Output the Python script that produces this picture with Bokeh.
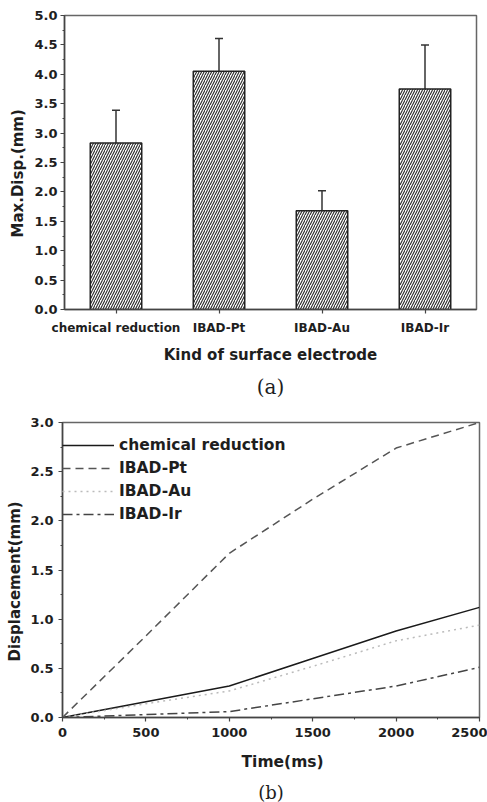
from bokeh.plotting import figure
from bokeh.models import (FactorRange, Range1d, ColumnDataSource, Whisker, TeeHead,
                          Title, Legend, LegendItem, SingleIntervalTicker, NumeralTickFormatter)
from bokeh.embed import file_html
from bokeh.resources import INLINE

# ---- data (a) ----
electrodes = ["chemical reduction", "IBAD-Pt", "IBAD-Au", "IBAD-Ir"]
max_disp = [2.83, 4.05, 1.68, 3.75]
err_upper = [3.39, 4.61, 2.02, 4.50]
err_lower = [2.26, 3.47, 1.34, 3.00]

# ---- data (b) ----
time_ms = [0, 500, 1000, 1500, 2000, 2500]
disp_chem = [0.0, 0.16, 0.32, 0.60, 0.88, 1.12]
disp_pt = [0.0, 0.83, 1.67, 2.22, 2.74, 3.00]
disp_au = [0.0, 0.14, 0.27, 0.52, 0.78, 0.94]
disp_ir = [0.0, 0.03, 0.06, 0.19, 0.32, 0.51]

FONT = "DejaVu Sans"
AX = "#444444"
TXT = "#1e1e1e"

def style_axes(p):
    for ax in (p.xaxis + p.yaxis):
        ax.axis_line_color = AX
        ax.axis_line_width = 1.5
        ax.major_tick_line_color = AX
        ax.minor_tick_line_color = AX
        ax.major_tick_line_width = 1.2
        ax.major_tick_out = 4
        ax.major_tick_in = 0
        ax.minor_tick_out = 2
        ax.minor_tick_in = 0
        ax.major_label_text_font = FONT
        ax.major_label_text_font_style = "bold"
        ax.major_label_text_color = TXT
        ax.axis_label_text_font = FONT
        ax.axis_label_text_font_style = "bold"
        ax.axis_label_text_font_size = "15px"
        ax.axis_label_text_color = TXT
    p.xgrid.visible = False
    p.ygrid.visible = False
    p.outline_line_color = "#666666"
    p.outline_line_width = 1.5
    p.background_fill_color = "white"
    p.border_fill_color = "white"

def title(text, size, standoff, align="center", offset=0, font=FONT, style="bold"):
    return Title(text=text, align=align, offset=offset, standoff=standoff, text_font=font,
                 text_font_style=style, text_font_size=size, text_color=TXT)

# ---------------- (a) bar chart ----------------
src = ColumnDataSource(dict(cat=electrodes, val=max_disp, up=err_upper, lo=err_lower))
p1 = figure(x_range=FactorRange(factors=electrodes, range_padding=0), y_range=Range1d(0, 5),
            width=487, height=404, output_backend="svg", toolbar_location=None,
            min_border_left=64, min_border_right=11, min_border_top=15, min_border_bottom=95)
p1.vbar(x="cat", top="val", width=0.5, source=src, fill_color="white",
        line_color="#222222", line_width=1.5, hatch_pattern="/", hatch_color="#2a2a2a",
        hatch_scale=5, hatch_weight=1.1)
wh = Whisker(base="cat", upper="up", lower="lo", source=src, line_color="#333333", line_width=1.5,
             upper_head=TeeHead(size=8, line_color="#333333", line_width=1.5), lower_head=None)
p1.add_layout(wh)
p1.yaxis.ticker = SingleIntervalTicker(interval=0.5, num_minor_ticks=2)
p1.yaxis.formatter = NumeralTickFormatter(format="0.0")
p1.xaxis.axis_label = "Kind of surface electrode"
style_axes(p1)
p1.yaxis.major_label_text_font_size = "13px"
p1.yaxis.major_label_standoff = 3
p1.xaxis.major_label_text_font_size = "12px"
p1.xaxis.major_label_standoff = 7
p1.xaxis.axis_label_standoff = 8
p1.add_layout(title("Max.Disp.(mm)", "15px", 10, align="left", offset=72), "left")
p1.add_layout(title("(a)", "20px", 12, font="DejaVu Serif", style="normal"), "below")

# ---------------- (b) line chart ----------------
p2 = figure(x_range=Range1d(0, 2500), y_range=Range1d(0, 3.0),
            width=487, height=398, output_backend="svg", toolbar_location=None,
            min_border_left=58, min_border_right=8, min_border_top=18, min_border_bottom=85)
r1 = p2.line(time_ms, disp_chem, line_color="#1a1a1a", line_width=1.5)
r2 = p2.line(time_ms, disp_pt, line_color="#555555", line_width=1.5, line_dash="8 5")
r3 = p2.line(time_ms, disp_au, line_color="#bbbbbb", line_width=1.5, line_dash="2 4")
r4 = p2.line(time_ms, disp_ir, line_color="#444444", line_width=1.5, line_dash="10 4 3 4")
p2.xaxis.ticker = SingleIntervalTicker(interval=500, num_minor_ticks=2)
p2.yaxis.ticker = SingleIntervalTicker(interval=0.5, num_minor_ticks=2)
p2.yaxis.formatter = NumeralTickFormatter(format="0.0")
style_axes(p2)
p2.xaxis.major_label_text_font_size = "13px"
p2.yaxis.major_label_text_font_size = "13px"
p2.xaxis.major_label_standoff = 6
p2.yaxis.major_label_standoff = 5
legend = Legend(items=[LegendItem(label="chemical reduction", renderers=[r1]),
                       LegendItem(label="IBAD-Pt", renderers=[r2]),
                       LegendItem(label="IBAD-Au", renderers=[r3]),
                       LegendItem(label="IBAD-Ir", renderers=[r4])],
                location=(0, 193), margin=0, padding=7, spacing=3,
                glyph_width=52, glyph_height=20, label_standoff=5,
                label_text_font=FONT, label_text_font_style="bold", label_text_font_size="15.5px",
                label_text_color=TXT, border_line_color=None, background_fill_alpha=0)
p2.add_layout(legend)
p2.add_layout(title("Displacement(mm)", "15px", 7, align="left", offset=56), "left")
p2.add_layout(title("Time(ms)", "15.5px", 22, align="left", offset=179), "below")
p2.add_layout(title("(b)", "18px", -3, font="DejaVu Serif", style="normal"), "below")

open("out.html", "w").write(file_html([p1, p2], INLINE))
